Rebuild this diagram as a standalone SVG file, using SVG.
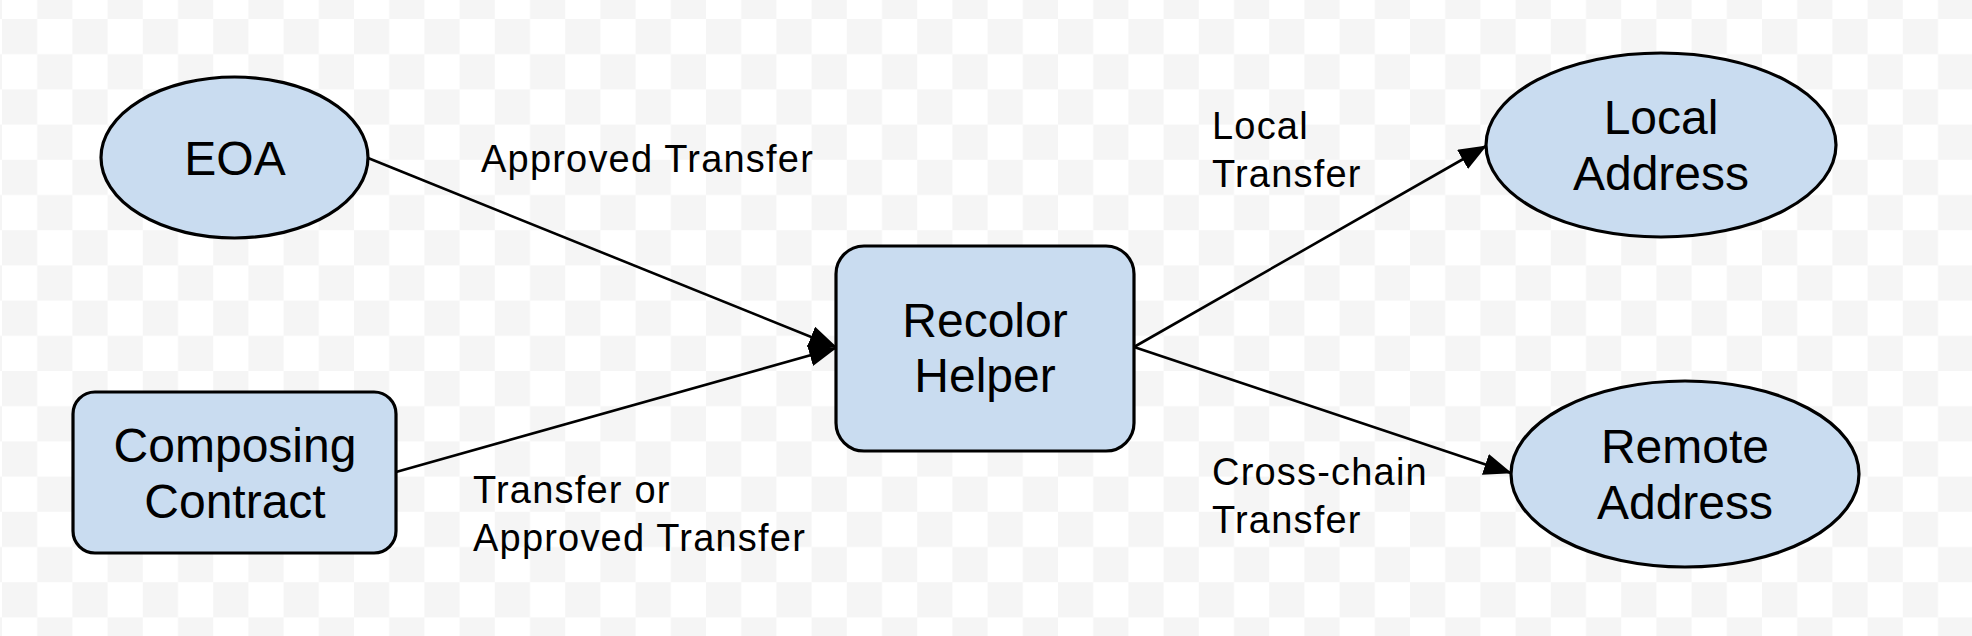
<svg xmlns="http://www.w3.org/2000/svg" width="1972" height="636" viewBox="0 0 1972 636">
  <defs>
    <pattern id="checker" patternUnits="userSpaceOnUse" x="2" y="19" width="70.4" height="70.4">
      <rect x="0" y="0" width="70.4" height="70.4" fill="#ffffff"/>
      <rect x="0" y="0" width="35.2" height="35.2" fill="#f5f5f5"/>
      <rect x="35.2" y="35.2" width="35.2" height="35.2" fill="#f5f5f5"/>
    </pattern>
    <marker id="arrow" markerUnits="userSpaceOnUse" viewBox="0 0 28 22" refX="27" refY="11" markerWidth="28" markerHeight="22" orient="auto">
      <path d="M0,0 L28,11 L0,22 Z" fill="#000"/>
    </marker>
  </defs>
  <style>
    .node { fill: #c9dcf0; stroke: #000; stroke-width: 3.2; }
    .ntext { font-family: "Liberation Sans", Arial, sans-serif; font-size: 48px; fill: #000; text-anchor: middle; }
    .etext { font-family: "Liberation Sans", Arial, sans-serif; font-size: 38px; fill: #000; letter-spacing: 1.2px; }
    .edge { fill: none; stroke: #000; stroke-width: 2.6; marker-end: url(#arrow); }
  </style>
  <rect x="0" y="0" width="1972" height="636" fill="url(#checker)"/>

  <g id="connectors">
    <line class="edge" x1="368" y1="158" x2="836" y2="347"/>
    <line class="edge" x1="396" y1="472" x2="836" y2="348"/>
    <line class="edge" x1="1134" y1="347" x2="1486" y2="146"/>
    <line class="edge" x1="1134" y1="347" x2="1511" y2="473"/>
    <text class="etext" x="481" y="172">Approved Transfer</text>
    <text class="etext" x="473" y="503">Transfer or</text>
    <text class="etext" x="473" y="551">Approved Transfer</text>
    <text class="etext" x="1212" y="139">Local</text>
    <text class="etext" x="1212" y="187">Transfer</text>
    <text class="etext" x="1212" y="485">Cross-chain</text>
    <text class="etext" x="1212" y="533">Transfer</text>
  </g>

  <g id="eoa">
    <ellipse class="node" cx="234.5" cy="157.5" rx="133.5" ry="80.5"/>
    <text class="ntext" x="235" y="175">EOA</text>
  </g>

  <g id="composing-contract">
    <rect class="node" x="73" y="392" width="323" height="161" rx="22" ry="22"/>
    <text class="ntext" x="235" y="462">Composing</text>
    <text class="ntext" x="235" y="518">Contract</text>
  </g>

  <g id="recolor-helper">
    <rect class="node" x="836" y="246" width="298" height="205" rx="28" ry="28"/>
    <text class="ntext" x="985" y="337">Recolor</text>
    <text class="ntext" x="985" y="392">Helper</text>
  </g>

  <g id="local-address">
    <ellipse class="node" cx="1661" cy="145" rx="175" ry="92"/>
    <text class="ntext" x="1661" y="133.5">Local</text>
    <text class="ntext" x="1661" y="190">Address</text>
  </g>

  <g id="remote-address">
    <ellipse class="node" cx="1685" cy="474" rx="174" ry="93"/>
    <text class="ntext" x="1685" y="462.5">Remote</text>
    <text class="ntext" x="1685" y="518.5">Address</text>
  </g>
</svg>
